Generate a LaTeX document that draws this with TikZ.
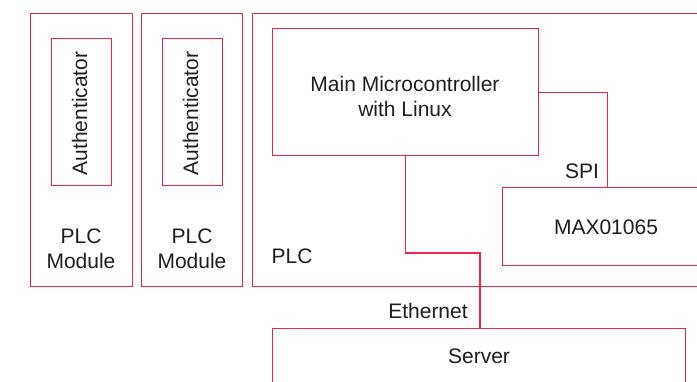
\documentclass[tikz,border=0pt]{standalone}
\usepackage{fontspec}
\setmainfont{Liberation Sans}
\definecolor{plcred}{RGB}{232,40,72}
\definecolor{txt}{RGB}{30,30,30}
\begin{document}
\begin{tikzpicture}[x=1pt,y=-1pt,
  box/.style={draw=plcred, line width=1.3pt, inner sep=0pt, anchor=north west},
  wire/.style={draw=plcred, line width=1.3pt},
  lbl/.style={font=\fontsize{21}{25}\selectfont, text=txt, inner sep=0pt}]
\clip (0,0) rectangle (697,381);
% boxes
\node[box, minimum width=102, minimum height=273] (mod1) at (30,13) {};
\node[box, minimum width=60, minimum height=147] (auth1) at (51,38) {};
\node[box, minimum width=101, minimum height=273] (mod2) at (141,13) {};
\node[box, minimum width=60, minimum height=147] (auth2) at (162,38) {};
\node[box, minimum width=460, minimum height=273] (plc) at (252,13) {};
\node[box, minimum width=266, minimum height=127] (mcu) at (272,28) {};
\node[box, minimum width=210, minimum height=78] (max) at (502,187) {};
\node[box, minimum width=413, minimum height=60] (server) at (272,328) {};
% texts
\node[lbl, rotate=90, anchor=base] (a1t) at (87,113.5) {Authenticator};
\node[lbl, rotate=90, anchor=base] (a2t) at (198,113.5) {Authenticator};
\node[lbl, align=center] (m1t) at (81,249) {PLC\\Module};
\node[lbl, align=center] (m2t) at (192,249) {PLC\\Module};
\node[lbl, anchor=base] (plct) at (292,263) {PLC};
\node[lbl, align=center] (mcut) at (405,96) {Main Microcontroller\\with Linux};
\node[lbl, anchor=base] (maxt) at (606,234) {MAX01065};
\node[lbl, anchor=base] (servt) at (479,363) {Server};
\node[lbl, anchor=base] (spit) at (582,178) {SPI};
\node[lbl, anchor=base] (etht) at (428,318) {Ethernet};
% connectors
\draw[wire] (mcu.east) -| (max.north);
\coordinate (ebend) at (480,253);
\draw[wire] (mcu.south) |- (ebend) -- (ebend |- server.north);
\end{tikzpicture}
\end{document}
